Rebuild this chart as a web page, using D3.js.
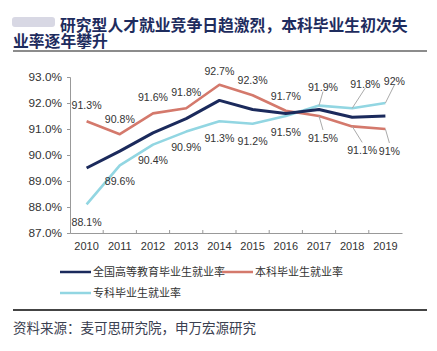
<!DOCTYPE html>
<html lang="zh">
<head>
<meta charset="UTF-8" />
<title>研究型人才就业竞争日趋激烈</title>
<script src="https://d3js.org/d3.v7.min.js"></script>
<style>
  body { margin: 0; background: #fff; }
  svg { display: block; font-family: "Liberation Sans", Arial, sans-serif; }
  .cjk { font-family: "Noto Sans CJK SC", sans-serif; }
</style>
</head>
<body>
<svg id="chart" width="437" height="351"></svg>
<script>
const years = ["2010","2011","2012","2013","2014","2015","2016","2017","2018","2019"];
const allRate = [89.5, 90.15, 90.85, 91.4, 92.1, 91.75, 91.6, 91.75, 91.45, 91.5];
const bachelorRate = [91.3, 90.8, 91.6, 91.8, 92.7, 92.3, 91.7, 91.5, 91.1, 91.0];
const collegeRate = [88.1, 89.6, 90.4, 90.9, 91.3, 91.2, 91.5, 91.9, 91.8, 92.0];
const bachelorLabels = ["91.3%","90.8%","91.6%","91.8%","92.7%","92.3%","91.7%","91.5%","91.1%","91%"];
const collegeLabels = ["88.1%","89.6%","90.4%","90.9%","91.3%","91.2%","91.5%","91.9%","91.8%","92%"];
const yTicks = [87, 88, 89, 90, 91, 92, 93];
const seriesNames = ["全国高等教育毕业生就业率", "本科毕业生就业率", "专科毕业生就业率"];

// label offsets [dx, dy] from the point; third item = draw a leader line
const bachelorOff = [[0,-16],[0,-15],[0,-16],[0,-16],[0,-14],[0,-15],[0,-15],[4,22,1],[10,24,1],[4,22,1]];
const collegeOff = [[0,18],[0,16],[0,16],[0,16],[0,17],[0,17],[0,16],[4,-18,1],[13,-24,1],[9,-22,1]];

const colors = ["#1b2a5c", "#d4796c", "#92d6e2"];

const svg = d3.select("#chart");

// title (one text block, two lines)
svg.append("rect").attr("x", 12).attr("y", 17).attr("width", 43).attr("height", 10)
  .attr("rx", 3).attr("fill", "#d8d8e4");
const title = svg.append("text").attr("class", "cjk")
  .attr("font-size", 15.8).attr("font-weight", "bold").attr("fill", "#1e2c5e");
title.append("tspan").attr("x", 60).attr("y", 31).text("研究型人才就业竞争日趋激烈，本科毕业生初次失");
title.append("tspan").attr("x", 13).attr("y", 47).text("业率逐年攀升");
svg.append("line").attr("x1", 13).attr("x2", 427).attr("y1", 51).attr("y2", 51)
  .attr("stroke", "#666").attr("stroke-width", 1.5);

const x = d3.scaleBand().domain(years).range([70, 402]);
const y = d3.scaleLinear().domain([87, 93]).range([233, 77]);
const cx = d => x(d) + x.bandwidth() / 2;

// y axis
const yAxis = svg.append("g").attr("transform", "translate(70,0)")
  .call(d3.axisLeft(y).tickValues(yTicks).tickSize(3).tickFormat(d => d.toFixed(1) + "%"));
yAxis.select(".domain").attr("stroke", "#999");
yAxis.selectAll(".tick line").attr("stroke", "#999");
yAxis.selectAll("text").attr("font-size", 11.8).attr("fill", "#333").attr("x", -8);

// x axis
const xAxis = svg.append("g").attr("transform", "translate(0,233)")
  .call(d3.axisBottom(x).tickSize(0).tickPadding(9));
xAxis.select(".domain").attr("stroke", "#999");
xAxis.selectAll("text").attr("font-size", 11).attr("fill", "#333");
xAxis.selectAll(".sep").data(years.slice(1)).join("line")
  .attr("x1", d => x(d)).attr("x2", d => x(d)).attr("y1", 0).attr("y2", -3)
  .attr("stroke", "#999");

const line = d3.line().x((d, i) => cx(years[i])).y(d => y(d));
const series = [allRate, bachelorRate, collegeRate];
const widths = [3, 2.6, 2.6];
[2, 1, 0].forEach(k => {
  svg.append("path").datum(series[k]).attr("d", line)
    .attr("fill", "none").attr("stroke", colors[k]).attr("stroke-width", widths[k])
    .attr("stroke-linejoin", "round");
});

function drawLabels(vals, labels, offs) {
  vals.forEach((v, i) => {
    const px = cx(years[i]), py = y(v);
    const o = offs[i];
    const lx = px + o[0], ly = py + o[1];
    if (o[2]) {
      svg.append("line").attr("x1", px).attr("y1", py)
        .attr("x2", lx).attr("y2", ly + (o[1] > 0 ? -8 : 4))
        .attr("stroke", "#aaa").attr("stroke-width", 1);
    }
    svg.append("text").attr("x", lx).attr("y", ly).attr("dy", "0.35em")
      .attr("text-anchor", "middle").attr("font-size", 10.6).attr("fill", "#333")
      .text(labels[i]);
  });
}
drawLabels(bachelorRate, bachelorLabels, bachelorOff);
drawLabels(collegeRate, collegeLabels, collegeOff);

// legend
const legendPos = [[60, 272], [222, 272], [60, 293]];
seriesNames.forEach((name, k) => {
  const [lx, ly] = legendPos[k];
  svg.append("line").attr("x1", lx).attr("x2", lx + 31).attr("y1", ly).attr("y2", ly)
    .attr("stroke", colors[k]).attr("stroke-width", 2.5);
  svg.append("text").attr("class", "cjk").attr("x", lx + 33).attr("y", ly).attr("dy", "0.35em")
    .attr("font-size", 11).attr("fill", "#333").text(name);
});

// footer
svg.append("line").attr("x1", 13).attr("x2", 427).attr("y1", 310).attr("y2", 310)
  .attr("stroke", "#444").attr("stroke-width", 2);
svg.append("text").attr("class", "cjk").attr("x", 13).attr("y", 333)
  .attr("font-size", 13.5).attr("fill", "#3a4050").text("资料来源：麦可思研究院，申万宏源研究");
</script>
</body>
</html>
